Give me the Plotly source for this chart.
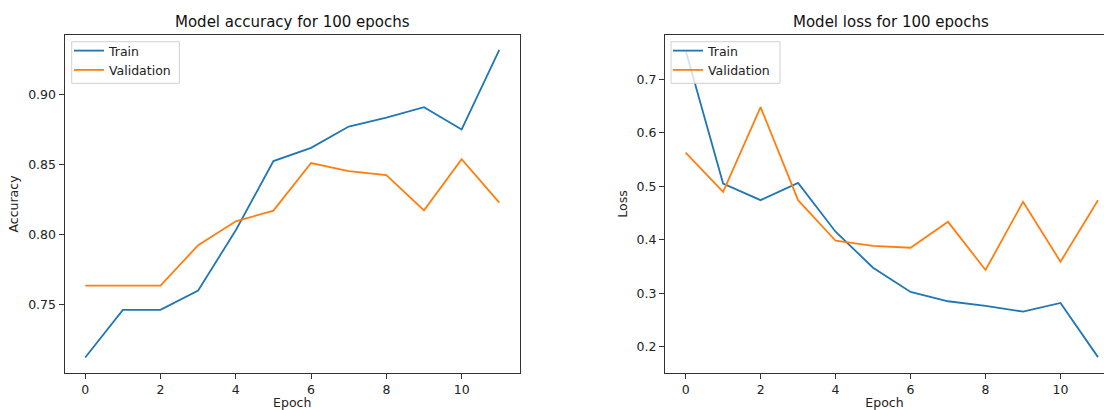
import plotly.graph_objects as go

epochs = list(range(12))
train_acc = [0.7124, 0.7464, 0.7464, 0.7602, 0.8033, 0.8527, 0.8622, 0.8774, 0.8838, 0.8912, 0.8753, 0.9321]
val_acc = [0.7638, 0.7638, 0.7638, 0.7926, 0.8097, 0.8173, 0.8513, 0.8456, 0.8427, 0.8175, 0.8541, 0.8230]
train_loss = [0.7546, 0.5053, 0.4743, 0.5066, 0.4152, 0.3480, 0.3026, 0.2852, 0.2765, 0.2659, 0.2821, 0.1807]
val_loss = [0.5632, 0.4898, 0.6484, 0.4743, 0.3984, 0.3890, 0.3853, 0.4338, 0.3437, 0.4711, 0.3592, 0.4743]
acc_ticks = [0.75, 0.80, 0.85, 0.90]
loss_ticks = [0.2, 0.3, 0.4, 0.5, 0.6, 0.7]
x_ticks = [0, 2, 4, 6, 8, 10]

BLUE = '#1f77b4'
ORANGE = '#ff7f0e'
FONT = 'DejaVu Sans'
W, H = 1104, 410
T, B = 35, 37
PH = H - T - B


def px_x(p):
    return p / W


def px_y(p):
    return 1 - (p - T) / PH


fig = go.Figure()
fig.add_trace(go.Scatter(x=epochs, y=train_acc, mode='lines', name='Train',
                         line=dict(color=BLUE, width=1.8), xaxis='x', yaxis='y', legend='legend'))
fig.add_trace(go.Scatter(x=epochs, y=val_acc, mode='lines', name='Validation',
                         line=dict(color=ORANGE, width=1.8), xaxis='x', yaxis='y', legend='legend'))
fig.add_trace(go.Scatter(x=epochs, y=train_loss, mode='lines', name='Train',
                         line=dict(color=BLUE, width=1.8), xaxis='x2', yaxis='y2', legend='legend2'))
fig.add_trace(go.Scatter(x=epochs, y=val_loss, mode='lines', name='Validation',
                         line=dict(color=ORANGE, width=1.8), xaxis='x2', yaxis='y2', legend='legend2'))

axis_common = dict(showgrid=False, zeroline=False, showline=True, linecolor='#333333', linewidth=1,
                   ticks='outside', ticklen=5, tickwidth=1, tickcolor='#333333',
                   tickfont=dict(family=FONT, size=12.5, color='#222222'), automargin=False)

legend_common = dict(xanchor='left', yanchor='top', borderwidth=0, bgcolor='rgba(0,0,0,0)',
                     font=dict(family=FONT, size=12.5, color='#222222'), tracegroupgap=0)

box_style = dict(type='rect', xref='paper', yref='paper', layer='above',
                 line=dict(color='#d0d0d0', width=1), fillcolor='rgba(255,255,255,0.8)')

fig.update_layout(
    width=W, height=H,
    margin=dict(l=0, r=0, t=T, b=B),
    paper_bgcolor='white', plot_bgcolor='white',
    font=dict(family=FONT, size=12.5, color='#222222'),
    xaxis=dict(domain=[px_x(64.5), px_x(520)], range=[-0.55, 11.55], tickvals=x_ticks, mirror=True,
               anchor='y', title=dict(text='Epoch', standoff=8, font=dict(family=FONT, size=12.5)),
               **axis_common),
    yaxis=dict(domain=[0, 1], range=[0.7013, 0.9428], tickvals=acc_ticks, tickformat='.2f', mirror=True,
               anchor='x', title=dict(text='Accuracy', standoff=6, font=dict(family=FONT, size=12.5)),
               **axis_common),
    xaxis2=dict(domain=[px_x(665), 1], range=[-0.55, 11.16], tickvals=x_ticks, mirror=True,
                anchor='y2', title=dict(text='Epoch', standoff=8, font=dict(family=FONT, size=12.5)),
                **axis_common),
    yaxis2=dict(domain=[0, 1], range=[0.151, 0.7833], tickvals=loss_ticks, tickformat='.1f', mirror=False,
                anchor='x2', title=dict(text='Loss', standoff=6, font=dict(family=FONT, size=12.5)),
                **axis_common),
    legend=dict(x=px_x(69), y=px_y(36), **legend_common),
    legend2=dict(x=px_x(668), y=px_y(36), **legend_common),
    shapes=[
        dict(x0=px_x(71.7), x1=px_x(179.3), y0=px_y(83.3), y1=px_y(41.7), **box_style),
        dict(x0=px_x(671), x1=px_x(780), y0=px_y(83.3), y1=px_y(41.7), **box_style),
    ],
    annotations=[
        dict(text='Model accuracy for 100 epochs', x=px_x(292.5), y=px_y(22),
             xref='paper', yref='paper', xanchor='center', yanchor='middle', showarrow=False,
             font=dict(family=FONT, size=15, color='#111111')),
        dict(text='Model loss for 100 epochs', x=px_x(891), y=px_y(22),
             xref='paper', yref='paper', xanchor='center', yanchor='middle', showarrow=False,
             font=dict(family=FONT, size=15, color='#111111')),
    ],
)

fig.write_html('out.html', config={'displayModeBar': False},
               post_script="document.body.style.margin='0';document.body.style.overflow='hidden';")
